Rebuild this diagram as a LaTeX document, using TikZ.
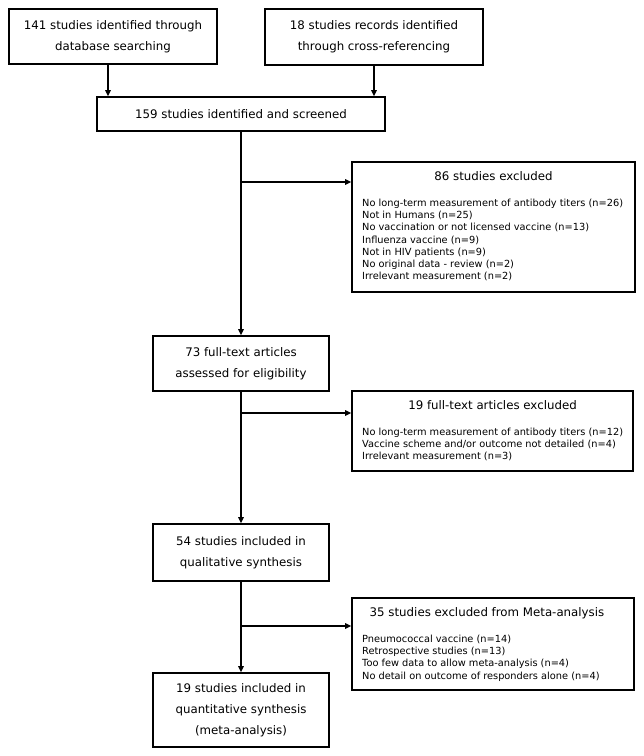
\documentclass[tikz,border=0pt]{standalone}
\usepackage{fontspec}
\setmainfont{DejaVu Sans}
\usetikzlibrary{arrows.meta,calc}
\newcommand\mainfs{\fontsize{11.8}{21}\selectfont}
\newcommand\listfs{\fontsize{9.8}{12.3}\selectfont}
\begin{document}
\begin{tikzpicture}[x=1pt,y=-1pt,
  box/.style={draw, rectangle, line width=1.6pt, inner sep=0pt, align=center, font=\mainfs},
  head/.style={inner sep=0pt, font=\mainfs},
  lst/.style={anchor=north west, align=left, inner sep=0pt, font=\listfs},
  arr/.style={line width=1.6pt, -{Triangle[length=6pt,width=5.5pt]}}]
\useasboundingbox[fill=white] (0,0) rectangle (644,756);

% boxes
\node[box, minimum width=208pt, minimum height=55pt] (b1) at (113,36.5) {141 studies identified through\\database searching};
\node[box, minimum width=218pt, minimum height=56pt] (b2) at (374,37) {18 studies records identified\\through cross-referencing};
\node[box, minimum width=288pt, minimum height=34pt] (b3) at (241,114) {159 studies identified and screened};
\node[box, minimum width=176pt, minimum height=55pt] (b73) at (241,363.5) {73 full-text articles\\assessed for eligibility};
\node[box, minimum width=176pt, minimum height=57pt] (b54) at (241,552.5) {54 studies included in\\qualitative synthesis};
\node[box, minimum width=176pt, minimum height=74pt] (b19i) at (241,710) {19 studies included in\\quantitative synthesis\\(meta-analysis)};

\node[box, minimum width=283pt, minimum height=130pt] (b86) at (493.5,227) {};
\node[head] (h86) at (493.5,176) {86 studies excluded};
\node[lst] (l86) at (362,198.5) {No long-term measurement of antibody titers (n=26)\\Not in Humans (n=25)\\No vaccination or not licensed vaccine (n=13)\\Influenza vaccine (n=9)\\Not in HIV patients (n=9)\\No original data - review (n=2)\\Irrelevant measurement (n=2)};

\node[box, minimum width=281pt, minimum height=80pt] (b19x) at (492.5,431) {};
\node[head] (h19x) at (492.5,405) {19 full-text articles excluded};
\node[lst] (l19x) at (362,427.5) {No long-term measurement of antibody titers (n=12)\\Vaccine scheme and/or outcome not detailed (n=4)\\Irrelevant measurement (n=3)};

\node[box, minimum width=282pt, minimum height=92pt] (b35) at (493,644) {};
\node[head] (h35) at (487,613) {35 studies excluded from Meta-analysis};
\node[lst] (l35) at (362,634.5) {Pneumococcal vaccine (n=14)\\Retrospective studies (n=13)\\Too few data to allow meta-analysis (n=4)\\No detail on outcome of responders alone (n=4)};

% connectors
\draw[arr] ([xshift=-5pt]b1.south) -- ([xshift=-5pt]b1.south |- b3.north);
\draw[arr] (b2.south) -- (b2.south |- b3.north);
\draw[arr] (b3.south) -- (b73.north);
\coordinate (j1) at (241,182);
\draw[arr] (j1) -- (j1 -| b86.west);
\draw[arr] (b73.south) -- (b54.north);
\coordinate (j2) at (241,413);
\draw[arr] (j2) -- (j2 -| b19x.west);
\draw[arr] (b54.south) -- (b19i.north);
\coordinate (j3) at (241,626);
\draw[arr] (j3) -- (j3 -| b35.west);
\end{tikzpicture}
\end{document}
